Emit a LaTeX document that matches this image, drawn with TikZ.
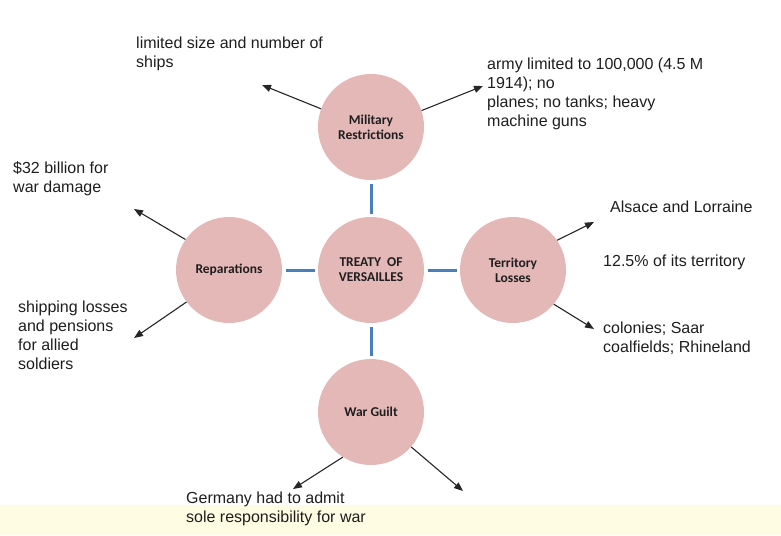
\documentclass[tikz,border=0pt]{standalone}
\usepackage{fontspec}
\setmainfont{Liberation Sans}
\newfontfamily\calibrif{Carlito}
\usetikzlibrary{arrows.meta}
\definecolor{circfill}{RGB}{229,184,184}
\definecolor{bluelink}{RGB}{74,126,187}
\definecolor{bandyellow}{RGB}{254,252,226}
\definecolor{txt}{RGB}{30,30,30}
\tikzset{
  topic/.style={circle, fill=circfill, minimum size=106pt, inner sep=0pt, align=center,
    font=\calibrif\bfseries\fontsize{13.5}{15}\selectfont, text=txt},
  note/.style={anchor=north west, inner sep=0pt, align=left,
    font=\fontsize{16}{19}\selectfont, text=txt},
  blueline/.style={bluelink, line width=3pt, shorten <=4pt, shorten >=3pt},
  arr/.style={draw=black!85, line width=1.1pt, -{Triangle[length=9pt,width=7pt]}}
}
\begin{document}
\begin{tikzpicture}[x=1pt,y=-1pt]
\useasboundingbox (0,0) rectangle (781,535);
\fill[bandyellow] (0,505) rectangle (781,535);

\node[topic] (mil) at (371,127) {Military\\Restrictions};
\node[topic] (tov) at (371,270) {TREATY\ \ OF\\VERSAILLES};
\node[topic] (rep) at (229,270) {Reparations};
\node[topic] (ter) at (513,270) {Territory\\Losses};
\node[topic] (wg)  at (371,412) {War Guilt};

\draw[blueline] (mil) -- (tov);
\draw[blueline] (tov) -- (wg);
\draw[blueline] (rep) -- (tov);
\draw[blueline] (tov) -- (ter);

\coordinate (t1) at (262,85);
\coordinate (t2) at (483,86);
\coordinate (t3) at (134,209);
\coordinate (t4) at (134,338);
\coordinate (t5) at (594,222);
\coordinate (t6) at (594,329);
\coordinate (t7) at (293,489);
\coordinate (t8) at (463,491);

\draw[arr] (mil.160) -- (t1);
\draw[arr] (mil.18) -- (t2);
\draw[arr] (rep.145) -- (t3);
\draw[arr] (rep.217) -- (t4);
\draw[arr] (ter.34) -- (t5);
\draw[arr] (ter.320) -- (t6);
\draw[arr] (wg.238) -- (t7);
\draw[arr] (wg.319) -- (t8);

\node[note] (n1) at (136,37) {limited size and number of\\ships};
\node[note] (n2) at (487,58) {army limited to 100,000 (4.5 M\\1914); no\\planes; no tanks; heavy\\machine guns};
\node[note] (n3) at (13,161) {\$32 billion for\\war damage};
\node[note] (n4) at (18,301) {shipping losses\\and pensions\\for allied\\soldiers};
\node[note] (n5) at (610,201) {Alsace and Lorraine};
\node[note] (n6) at (603,255) {12.5\% of its territory};
\node[note] (n7) at (603,322) {colonies; Saar\\coalfields; Rhineland};
\node[note] (n8) at (186,492) {Germany had to admit\\sole responsibility for war};
\end{tikzpicture}
\end{document}
